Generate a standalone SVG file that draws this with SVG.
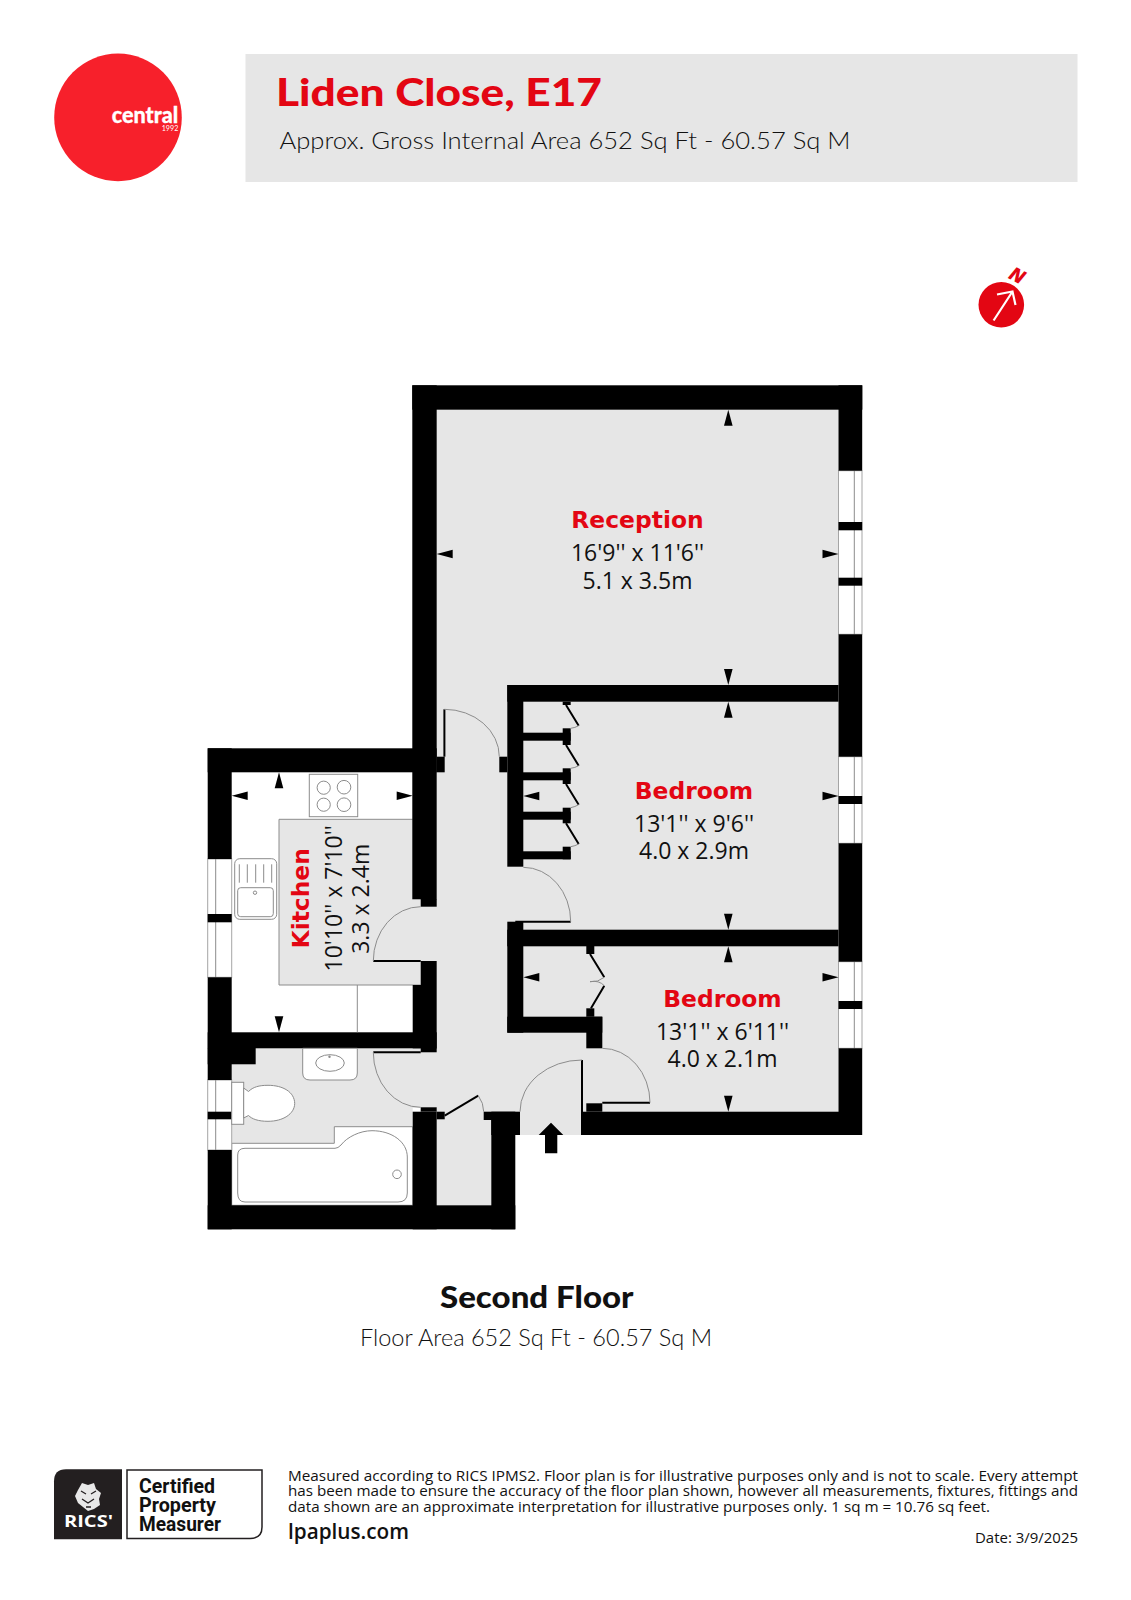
<svg xmlns="http://www.w3.org/2000/svg" width="1131" height="1600" viewBox="0 0 1131 1600">
<style>
.w{fill:#000}
.fl{fill:#e6e6e6}
.fx{fill:#fff;stroke:#8c8c8c;stroke-width:1}
.ln{fill:none;stroke:#8c8c8c;stroke-width:1}
.lf{fill:none;stroke:#000;stroke-width:2}
.win{fill:#fff;stroke:#a5a5a5;stroke-width:1}
.nm{font-family:"DejaVu Sans",sans-serif;font-weight:700;font-size:23.4px;fill:#e30613;text-anchor:middle}
.dm{font-family:"Open Sans",sans-serif;font-size:23px;fill:#111;text-anchor:middle}
.sm{font-family:"Open Sans",sans-serif;font-size:14px;fill:#111}
.cp{font-family:"Roboto",sans-serif;font-weight:700;font-size:20.5px;fill:#111}
</style>
<defs>
<polygon id="au" points="0,0 4.3,16 -4.3,16" fill="#000"/>
</defs>
<rect width="1131" height="1600" fill="#fff"/>

<g id="logo">
<circle cx="118" cy="117.4" r="63.8" fill="#f7202b"/>
<text x="111.7" y="123.3" font-family="Lato,sans-serif" font-weight="900" font-size="22" fill="#fff" stroke="#fff" stroke-width=".3" textLength="66.6" lengthAdjust="spacingAndGlyphs">central</text>
<text x="161.7" y="131" font-family="Lato,sans-serif" font-size="7" fill="#fff" textLength="16.6" lengthAdjust="spacingAndGlyphs">1992</text>
</g>
<g id="banner">
<rect x="245.5" y="54" width="832" height="128" fill="#e6e6e6"/>
<text x="276" y="106" font-family="Lato,sans-serif" font-weight="900" font-size="38" fill="#e30613" textLength="326" lengthAdjust="spacingAndGlyphs">Liden Close, E17</text>
<text x="279.5" y="149" font-family="Lato,sans-serif" font-weight="300" font-size="24" fill="#111" textLength="571" lengthAdjust="spacingAndGlyphs">Approx. Gross Internal Area 652 Sq Ft - 60.57 Sq M</text>
</g>
<g id="north">
<circle cx="1001.3" cy="304.8" r="22.8" fill="#e30613"/>
<path d="M993.6 320.5L1012.5 291.5M997 294.5L1012.5 291.5L1015.5 305" fill="none" stroke="#fff" stroke-width="2.2"/>
<text x="1017" y="282" font-family="Open Sans,sans-serif" font-weight="800" font-style="italic" font-size="19" fill="#e30613" text-anchor="middle" transform="rotate(28 1017 276)">N</text>
</g>

<g id="floors">
<path class="fl" d="M436.7 409.7H838.5V1111.7H582V1135H520V1120H436.7V907H420.7V899.3H436.7Z"/>
<rect x="231.7" y="772.3" width="181" height="260" fill="#fff"/>
<path class="fl" d="M279 819.3H412.7V899.3H420.7V906.7H437V961H420.7V985H279Z"/>
<path class="ln" d="M412.7 819.3H279V985H420.7"/>
<path class="fl" d="M255.7 1048.3H420.7V1052.3H437V1108H412.7V1126.7H334.3V1143.3H231.7V1064.3H255.7Z"/>
<path d="M231.7 1143.3H334.3V1126.7H412.7V1205.3H231.7Z" fill="#fff" stroke="#8c8c8c" stroke-width="1"/>
<rect class="fl" x="436.7" y="1119" width="54.6" height="86.3"/>
</g>

<g id="windows">
<rect class="win" x="838.5" y="470.7" width="23.5" height="163.6"/>
<path class="ln" d="M854.3 470.7V634.3"/>
<rect class="win" x="838.5" y="756.7" width="23.5" height="86.6"/>
<path class="ln" d="M854.3 756.7V843.3"/>
<rect class="win" x="838.5" y="961.7" width="23.5" height="86.6"/>
<path class="ln" d="M854.3 961.7V1048.3"/>
<rect class="win" x="207.7" y="859" width="24" height="118.3"/>
<path class="ln" d="M215.7 859V977.3"/>
<rect class="win" x="207.7" y="1080" width="24" height="70"/>
<path class="ln" d="M215.7 1080V1150"/>
</g>

<g id="walls" class="w">
<rect x="412.3" y="385.3" width="450" height="24.4"/>
<rect x="412.3" y="385.3" width="24.4" height="514"/>
<rect x="420.7" y="899" width="16" height="7.7"/>
<rect x="838.5" y="385.3" width="23.7" height="85.4"/>
<rect x="838.5" y="522" width="23.7" height="8.3"/>
<rect x="838.5" y="577.7" width="23.7" height="8"/>
<rect x="838.5" y="634.3" width="23.7" height="122.4"/>
<rect x="838.5" y="796" width="23.7" height="8"/>
<rect x="838.5" y="843.3" width="23.7" height="118.4"/>
<rect x="838.5" y="1001" width="23.7" height="8"/>
<rect x="838.5" y="1048.3" width="23.7" height="86.7"/>
<rect x="582" y="1111.7" width="280" height="23.3"/>
<rect x="586.3" y="1103.3" width="16" height="8.4"/>
<rect x="507.3" y="685" width="331.2" height="16.7"/>
<rect x="507.3" y="685" width="16" height="181.7"/>
<rect x="499.3" y="756.7" width="8" height="15.6"/>
<rect x="436.7" y="756.7" width="8" height="15.6"/>
<rect x="523" y="732.7" width="47.7" height="8"/>
<rect x="523" y="772.3" width="47.7" height="8"/>
<rect x="523" y="811.7" width="47.7" height="8"/>
<rect x="523" y="851.3" width="47.7" height="8"/>
<rect x="562.7" y="701.7" width="8" height="3.3"/>
<rect x="562.7" y="728.3" width="8" height="16.7"/>
<rect x="562.7" y="768.3" width="8" height="15.7"/>
<rect x="562.7" y="807.7" width="8" height="15.6"/>
<rect x="562.7" y="846.7" width="8" height="12.6"/>
<rect x="507.3" y="921.7" width="16" height="111"/>
<rect x="507.3" y="929.7" width="331.2" height="16.6"/>
<rect x="507.3" y="1016.7" width="95" height="16"/>
<rect x="586.3" y="1016.7" width="16" height="31.6"/>
<rect x="586.3" y="946" width="8" height="8"/>
<rect x="586.3" y="1008.3" width="8" height="8.4"/>
<rect x="207.7" y="748.3" width="229" height="24"/>
<rect x="207.7" y="748.3" width="24" height="110.7"/>
<rect x="207.7" y="914" width="24" height="8.3"/>
<rect x="207.7" y="977.3" width="24" height="102.7"/>
<rect x="207.7" y="1111.7" width="24" height="7.6"/>
<rect x="207.7" y="1150" width="24" height="79.3"/>
<rect x="207.7" y="1032.3" width="229" height="16"/>
<rect x="207.7" y="1048" width="48" height="16.3"/>
<rect x="420.7" y="961" width="16" height="24"/>
<rect x="412.7" y="985" width="24" height="63.3"/>
<rect x="420.7" y="1048" width="16" height="4.3"/>
<rect x="412.7" y="1111.7" width="24" height="117.6"/>
<rect x="420.7" y="1107.3" width="16" height="4.4"/>
<rect x="436.7" y="1111.7" width="8" height="7.6"/>
<rect x="207.7" y="1205.3" width="307.6" height="24"/>
<rect x="491.3" y="1111.7" width="24" height="117.6"/>
<rect x="483.7" y="1111.7" width="36.3" height="8.3"/>
<rect x="491.3" y="1120" width="28.7" height="15"/>
<polygon points="545,1153.3 557.3,1153.3 557.3,1135 563.3,1135 551,1122.7 538.7,1135 545,1135"/>
</g>

<g id="doors">
<path class="lf" d="M444.4 709.3V756.7"/>
<path class="ln" d="M444.4 709.3A55 47.4 0 0 1 499.3 756.7"/>
<path class="lf" d="M515.3 921.7H570.7" stroke-width="1.5"/>
<path class="ln" d="M523.3 867.3A47.4 54.4 0 0 1 570.7 921.7"/>
<path class="lf" d="M373.3 961H420.7"/>
<path class="ln" d="M420.7 906.7A47.4 54.3 0 0 0 373.3 961"/>
<path class="lf" d="M373.3 1052.3H420.7" stroke-width="1.5"/>
<path class="ln" d="M373.3 1052.3A47.4 55 0 0 0 420.7 1107.3"/>
<path class="lf" d="M444.7 1115.7L478.3 1095.7"/>
<path class="ln" d="M478.3 1095.7Q483.7 1103 483.7 1111.7"/>
<path class="lf" d="M582 1060V1135"/>
<path class="ln" d="M582 1060A62 51.7 0 0 0 520 1111.7"/>
<path class="lf" d="M602.3 1102.7H650"/>
<path class="ln" d="M602.3 1048.3A47.7 54.4 0 0 1 650 1102.7"/>
<path class="lf" d="M566 705L578.7 725.7M566 745L578.7 765.7M566 784L578.7 804.7M566 823.3L578.7 844"/>
<path class="ln" d="M578.7 725.7Q575 727.8 570.7 728.3M578.7 765.7Q575 767.8 570.7 768.3M578.7 804.7Q575 806.8 570.7 807.7M578.7 844Q575 846 570.7 846.7"/>
<path class="lf" d="M590 954L604.3 977.3M604.3 985.7L591 1008.3"/>
<path class="ln" d="M590 981.7Q598 982.5 604.3 977.3M590 981.7Q599 980 604.3 985.7"/>
</g>

<g id="fixtures">
<path class="ln" d="M357.3 985V1032.3"/>
<g id="hob">
<rect class="fx" x="309.3" y="774.3" width="48.4" height="42.4"/>
<circle class="ln" cx="323.7" cy="787.7" r="6.6"/><circle class="ln" cx="344" cy="787.2" r="6.8"/>
<circle class="ln" cx="323.7" cy="804.7" r="6.6"/><circle class="ln" cx="344" cy="804.7" r="6.8"/>
</g>
<g id="sink">
<rect class="fx" x="234.7" y="858.7" width="42" height="60.6" rx="5"/>
<rect class="ln" x="237.7" y="887.7" width="35.6" height="29" rx="3"/>
<circle class="ln" cx="255" cy="892.7" r="1.7"/>
<path class="ln" d="M239.3 864.3V882.7M247.3 864.3V882.7M255.7 864.3V882.7M263.7 864.3V882.7M271.7 864.3V882.7"/>
</g>
<g id="basin">
<path class="fx" d="M302.7 1048.3H357.3V1073Q357.3 1080 350 1080H310Q302.7 1080 302.7 1073Z"/>
<ellipse class="ln" cx="330" cy="1063" rx="14.3" ry="8.3"/>
<circle cx="329.5" cy="1056.7" r="1.2" fill="#8c8c8c"/>
</g>
<g id="toilet">
<rect class="fx" x="231.7" y="1082.3" width="12" height="42"/>
<path class="fx" d="M243.7 1088L248.5 1091.5C253 1087 259 1085.3 268 1085.3C283 1085.3 294.5 1092 294.7 1103.5C294.5 1114 283 1121.3 268 1121.3C258 1121.3 252 1119 248.5 1115.5L243.7 1118Z"/>
</g>
<g id="bath">
<path class="fx" d="M245 1148.3H335Q338 1148.3 341 1145C347 1137 360 1130.7 372 1130.7C392 1130.7 407.3 1142 407.3 1157V1193Q407.3 1202 398 1202H245Q237.7 1202 237.7 1193V1155Q237.7 1148.3 245 1148.3Z"/>
<circle class="ln" cx="397" cy="1174.3" r="4.3"/>
</g>
</g>

<g id="arrows">
<use href="#au" x="728.3" y="409.7"/>
<use href="#au" transform="translate(436.7 554) rotate(-90)"/>
<use href="#au" transform="translate(838.5 554) rotate(90)"/>
<use href="#au" transform="translate(728.3 685) rotate(180)"/>
<use href="#au" x="728.3" y="701.7"/>
<use href="#au" transform="translate(523.3 796) rotate(-90)"/>
<use href="#au" transform="translate(838.5 796) rotate(90)"/>
<use href="#au" transform="translate(728.3 929.7) rotate(180)"/>
<use href="#au" x="728.3" y="946.3"/>
<use href="#au" transform="translate(523.3 977.3) rotate(-90)"/>
<use href="#au" transform="translate(838.5 977.3) rotate(90)"/>
<use href="#au" transform="translate(728.3 1111.7) rotate(180)"/>
<use href="#au" x="279" y="772.3"/>
<use href="#au" transform="translate(231.7 795.7) rotate(-90)"/>
<use href="#au" transform="translate(412.7 795.7) rotate(90)"/>
<use href="#au" transform="translate(279 1032.3) rotate(180)"/>
</g>

<g id="reception"><text class="nm" x="637.5" y="528">Reception</text><text class="dm" x="637.5" y="561">16'9'' x 11'6''</text><text class="dm" x="637.5" y="589">5.1 x 3.5m</text></g>
<g id="bedroom1"><text class="nm" x="694" y="799.3">Bedroom</text><text class="dm" x="694" y="832">13'1'' x 9'6''</text><text class="dm" x="694" y="859.3">4.0 x 2.9m</text></g>
<g id="bedroom2"><text class="nm" x="722.5" y="1007.3">Bedroom</text><text class="dm" x="722.5" y="1039.5">13'1'' x 6'11''</text><text class="dm" x="722.5" y="1067.3">4.0 x 2.1m</text></g>
<g id="kitchen"><text class="nm" transform="translate(309.3 898.3) rotate(-90)">Kitchen</text><text class="dm" transform="translate(341.7 898.3) rotate(-90)">10'10'' x 7'10''</text><text class="dm" transform="translate(369.3 898.8) rotate(-90)">3.3 x 2.4m</text></g>

<g id="floor-title">
<text x="440" y="1307.5" font-family="Lato,sans-serif" font-weight="900" font-size="30" fill="#111" textLength="193.5" lengthAdjust="spacingAndGlyphs">Second Floor</text>
<text x="360" y="1346" font-family="Lato,sans-serif" font-weight="300" font-size="24" fill="#111" textLength="352" lengthAdjust="spacingAndGlyphs">Floor Area 652 Sq Ft - 60.57 Sq M</text>
</g>

<g id="rics">
<path d="M66 1469.3H122V1539.3H54V1481.3Q54 1469.3 66 1469.3Z" fill="#231f20"/>
<path d="M127 1470H262V1527Q262 1538.5 250 1538.5H127Z" fill="#fff" stroke="#231f20" stroke-width="1.5"/>
<path d="M82 1483L88 1485L94 1483L96 1489L101 1493L99 1499L100 1505L94 1509L88 1511L83 1507L78 1503L75 1496L78 1490Z" fill="#e8e8e8"/>
<path d="M81 1491L86 1494M91 1494L96 1491M82 1499L88 1503L94 1499M86 1507L91 1507" stroke="#231f20" stroke-width="1.3" fill="none"/>
<text x="64" y="1527.3" font-family="Open Sans,sans-serif" font-weight="700" font-size="16" fill="#fff" textLength="49" lengthAdjust="spacingAndGlyphs">RICS'</text>
<text class="cp" x="139" y="1493" textLength="76" lengthAdjust="spacingAndGlyphs">Certified</text>
<text class="cp" x="139" y="1512" textLength="77" lengthAdjust="spacingAndGlyphs">Property</text>
<text class="cp" x="139" y="1530.5" textLength="82" lengthAdjust="spacingAndGlyphs">Measurer</text>
</g>
<g id="footer">
<text class="sm" x="288" y="1481" textLength="790" lengthAdjust="spacingAndGlyphs">Measured according to RICS IPMS2. Floor plan is for illustrative purposes only and is not to scale. Every attempt</text>
<text class="sm" x="288" y="1496.3" textLength="790" lengthAdjust="spacingAndGlyphs">has been made to ensure the accuracy of the floor plan shown, however all measurements, fixtures, fittings and</text>
<text class="sm" x="288" y="1511.7" textLength="702" lengthAdjust="spacingAndGlyphs">data shown are an approximate interpretation for illustrative purposes only. 1 sq m = 10.76 sq feet.</text>
<text x="288" y="1538.5" font-family="Open Sans,sans-serif" font-weight="600" font-size="21" fill="#111" textLength="121" lengthAdjust="spacingAndGlyphs">lpaplus.com</text>
<text class="sm" x="975" y="1543" textLength="103" lengthAdjust="spacingAndGlyphs">Date: 3/9/2025</text>
</g>
</svg>
